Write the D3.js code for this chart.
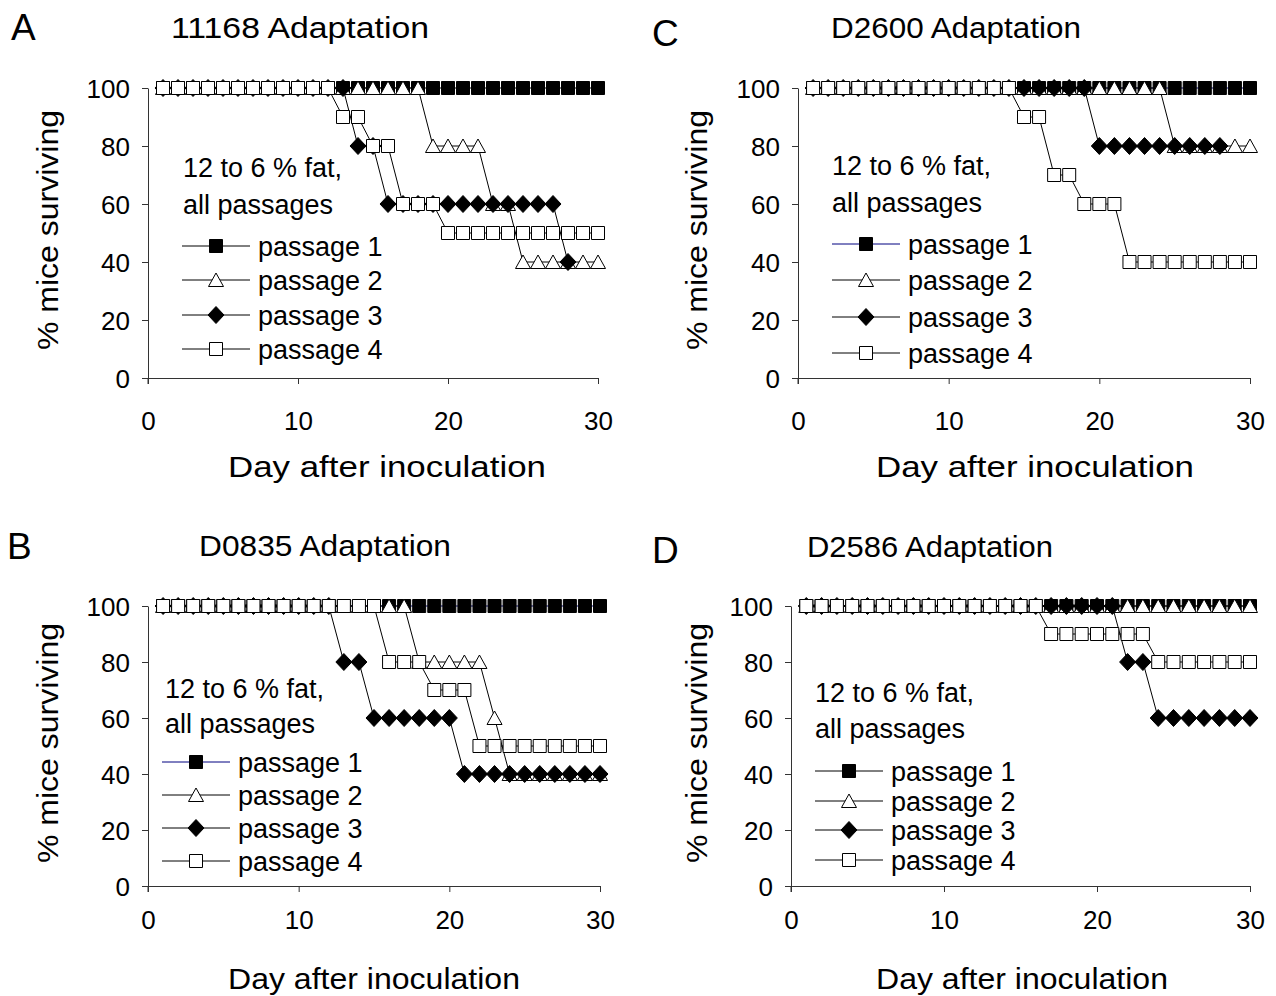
<!DOCTYPE html>
<html>
  <head>
    <meta charset="utf-8">
    <script src="https://d3js.org/d3.v7.min.js"></script>
    <title>Mouse survival, adaptation passages</title>
    <style>
      body { margin: 0; background: #fff; }
      svg text { font-family: "Liberation Sans", Arial, sans-serif; fill: #000; }
      .tick text { font-size: 26px; }
      .tick line, .domain { stroke: #333; }
    </style>
  </head>
  <body>
    <svg width="1276" height="996"></svg>
    <script>
    // days after inoculation (x categories)
    const days = [1,2,3,4,5,6,7,8,9,10,11,12,13,14,15,16,17,18,19,20,21,22,23,24,25,26,27,28,29,30];
    const seriesNames = ['passage 1', 'passage 2', 'passage 3', 'passage 4'];
    const yTicks = [0, 20, 40, 60, 80, 100];
    const xTicks = [0, 10, 20, 30];

    // panel A - 11168
    const a_p1 = [100,100,100,100,100,100,100,100,100,100,100,100,100,100,100,100,100,100,100,100,100,100,100,100,100,100,100,100,100,100];
    const a_p2 = [100,100,100,100,100,100,100,100,100,100,100,100,100,100,100,100,100,100,80,80,80,80,60,60,40,40,40,40,40,40];
    const a_p3 = [100,100,100,100,100,100,100,100,100,100,100,100,100,80,80,60,60,60,60,60,60,60,60,60,60,60,60,40,null,null];
    const a_p4 = [100,100,100,100,100,100,100,100,100,100,100,100,90,90,80,80,60,60,60,50,50,50,50,50,50,50,50,50,50,50];

    // panel B - D0835
    const b_p1 = [100,100,100,100,100,100,100,100,100,100,100,100,100,100,100,100,100,100,100,100,100,100,100,100,100,100,100,100,100,100];
    const b_p2 = [100,100,100,100,100,100,100,100,100,100,100,100,100,100,100,100,100,80,80,80,80,80,60,40,40,40,40,40,40,40];
    const b_p3 = [100,100,100,100,100,100,100,100,100,100,100,100,80,80,60,60,60,60,60,60,40,40,40,40,40,40,40,40,40,40];
    const b_p4 = [100,100,100,100,100,100,100,100,100,100,100,100,100,100,100,80,80,80,70,70,70,50,50,50,50,50,50,50,50,50];

    // panel C - D2600
    const c_p1 = [100,100,100,100,100,100,100,100,100,100,100,100,100,100,100,100,100,100,100,100,100,100,100,100,100,100,100,100,100,100];
    const c_p2 = [100,100,100,100,100,100,100,100,100,100,100,100,100,100,100,100,100,100,100,100,100,100,100,100,80,80,80,80,80,80];
    const c_p3 = [100,100,100,100,100,100,100,100,100,100,100,100,100,100,100,100,100,100,100,80,80,80,80,80,80,80,80,80,null,null];
    const c_p4 = [100,100,100,100,100,100,100,100,100,100,100,100,100,100,90,90,70,70,60,60,60,40,40,40,40,40,40,40,40,40];

    // panel D - D2586
    const d_p1 = [100,100,100,100,100,100,100,100,100,100,100,100,100,100,100,100,100,100,100,100,100,100,100,100,100,100,100,100,100,100];
    const d_p2 = [100,100,100,100,100,100,100,100,100,100,100,100,100,100,100,100,100,100,100,100,100,100,100,100,100,100,100,100,100,100];
    const d_p3 = [100,100,100,100,100,100,100,100,100,100,100,100,100,100,100,100,100,100,100,100,100,80,80,60,60,60,60,60,60,60];
    const d_p4 = [100,100,100,100,100,100,100,100,100,100,100,100,100,100,100,100,90,90,90,90,90,90,90,80,80,80,80,80,80,80];

    const svg = d3.select('svg');

    // layout of each panel (pixels)
    const panels = [
      { letter: 'A', title: '11168 Adaptation', series: [a_p1, a_p2, a_p3, a_p4],
        x0: 148, x1: 598, yTop: 88, yBot: 378, letterX: 11, letterY: 40, titleX: 300, titleY: 38, titleW: 258,
        xLabY: 430, xTitleX: 228, xTitleY: 477, xTitleW: 318, yTitleX: 58, noteX: 183, noteY: [177, 214],
        legX: 182, legY: [246, 280, 315, 349], p1Color: '#000' },
      { letter: 'C', title: 'D2600 Adaptation', series: [c_p1, c_p2, c_p3, c_p4],
        x0: 798, x1: 1250, yTop: 88, yBot: 378, letterX: 652, letterY: 46, titleX: 956, titleY: 38, titleW: 250,
        xLabY: 430, xTitleX: 876, xTitleY: 477, xTitleW: 318, yTitleX: 707, noteX: 832, noteY: [175, 212],
        legX: 832, legY: [244, 280, 317, 353], p1Color: '#000080' },
      { letter: 'B', title: 'D0835 Adaptation', series: [b_p1, b_p2, b_p3, b_p4],
        x0: 148, x1: 600, yTop: 606, yBot: 886, letterX: 7, letterY: 559, titleX: 325, titleY: 556, titleW: 252,
        xLabY: 929, xTitleX: 228, xTitleY: 989, xTitleW: 292, yTitleX: 58, noteX: 165, noteY: [698, 733],
        legX: 162, legY: [762, 795, 828, 861], p1Color: '#000080' },
      { letter: 'D', title: 'D2586 Adaptation', series: [d_p1, d_p2, d_p3, d_p4],
        x0: 791, x1: 1250, yTop: 606, yBot: 886, letterX: 652, letterY: 563, titleX: 930, titleY: 557, titleW: 246,
        xLabY: 929, xTitleX: 876, xTitleY: 989, xTitleW: 292, yTitleX: 707, noteX: 815, noteY: [702, 738],
        legX: 815, legY: [771, 801, 830, 860], p1Color: '#000' }
    ];

    // marker shapes: filled square, open triangle, filled diamond, open square
    const sq = { draw(c) { c.rect(-6.5, -6.5, 13, 13); } };
    const tri = { draw(c) { c.moveTo(0, -7); c.lineTo(7.5, 6.5); c.lineTo(-7.5, 6.5); c.closePath(); } };
    const dia = { draw(c) { c.moveTo(0, -8.5); c.lineTo(8, 0); c.lineTo(0, 8.5); c.lineTo(-8, 0); c.closePath(); } };
    const symbols = [sq, tri, dia, sq];
    const fills = ['#000', '#fff', '#000', '#fff'];

    function drawMarker(g, i, x, y) {
      g.append('path')
        .attr('d', d3.symbol().type(symbols[i])())
        .attr('transform', `translate(${x},${y})`)
        .attr('fill', fills[i])
        .attr('stroke', '#000')
        .attr('stroke-width', 1);
    }

    panels.forEach(p => {
      const xScale = d3.scaleLinear().domain([0, 30]).range([p.x0, p.x1]);
      const yScale = d3.scaleLinear().domain([0, 100]).range([p.yBot, p.yTop]);
      const g = svg.append('g');

      // letter + title
      g.append('text').attr('x', p.letterX).attr('y', p.letterY)
        .style('font-size', '37px').text(p.letter);
      g.append('text').attr('x', p.titleX - p.titleW / 2).attr('y', p.titleY)
        .attr('textLength', p.titleW).attr('lengthAdjust', 'spacingAndGlyphs')
        .style('font-size', '30px').text(p.title);

      // axes
      const yAxis = d3.axisLeft(yScale).tickValues(yTicks).tickSize(6).tickSizeOuter(0).tickPadding(12);
      const xAxis = d3.axisBottom(xScale).tickValues(xTicks).tickSize(6).tickSizeOuter(0).tickPadding(20);
      const yAxisG = g.append('g').attr('transform', `translate(${p.x0},0)`).call(yAxis);
      const xAxisG = g.append('g').attr('transform', `translate(0,${p.yBot})`).call(xAxis);
      xAxisG.selectAll('.tick text').attr('dy', null).attr('y', p.xLabY - p.yBot);
      yAxisG.selectAll('.tick text').attr('dy', '0.36em');
      // y axis line continues a bit below the x axis, like the reference
      g.append('line').attr('x1', p.x0).attr('x2', p.x0).attr('y1', p.yBot).attr('y2', p.yBot + 6)
        .attr('stroke', '#333');

      // axis titles
      g.append('text').attr('x', p.xTitleX).attr('y', p.xTitleY)
        .attr('textLength', p.xTitleW).attr('lengthAdjust', 'spacingAndGlyphs')
        .style('font-size', '30px').text('Day after inoculation');
      g.append('text')
        .attr('transform', `translate(${p.yTitleX},${(p.yTop + p.yBot) / 2 - 3}) rotate(-90)`)
        .attr('x', -120)
        .attr('textLength', 240).attr('lengthAdjust', 'spacingAndGlyphs')
        .style('font-size', '30px').text('% mice surviving');

      // note
      g.append('text').attr('x', p.noteX).attr('y', p.noteY[0]).style('font-size', '27px').text('12 to 6 % fat,');
      g.append('text').attr('x', p.noteX).attr('y', p.noteY[1]).style('font-size', '27px').text('all passages');

      // series: passage 1 drawn first, passage 4 on top
      const line = d3.line()
        .defined(d => d.v !== null)
        .x(d => xScale(d.day))
        .y(d => yScale(d.v));

      p.series.forEach((vals, i) => {
        const pts = days.map((day, k) => ({ day: day, v: vals[k] }));
        const sg = g.append('g');
        sg.append('path').datum(pts)
          .attr('d', line)
          .attr('fill', 'none')
          .attr('stroke', i === 0 ? p.p1Color : '#000')
          .attr('stroke-width', 1);
        pts.filter(d => d.v !== null).forEach(d => drawMarker(sg, i, xScale(d.day), yScale(d.v)));
      });

      // legend
      seriesNames.forEach((name, i) => {
        const ly = p.legY[i];
        g.append('line').attr('x1', p.legX).attr('x2', p.legX + 68)
          .attr('y1', ly).attr('y2', ly)
          .attr('stroke', i === 0 ? p.p1Color : '#000').attr('stroke-width', 1);
        drawMarker(g, i, p.legX + 34, ly);
        g.append('text').attr('x', p.legX + 76).attr('y', ly).attr('dy', '0.36em')
          .style('font-size', '27px').text(name);
      });
    });
    </script>
  </body>
</html>
